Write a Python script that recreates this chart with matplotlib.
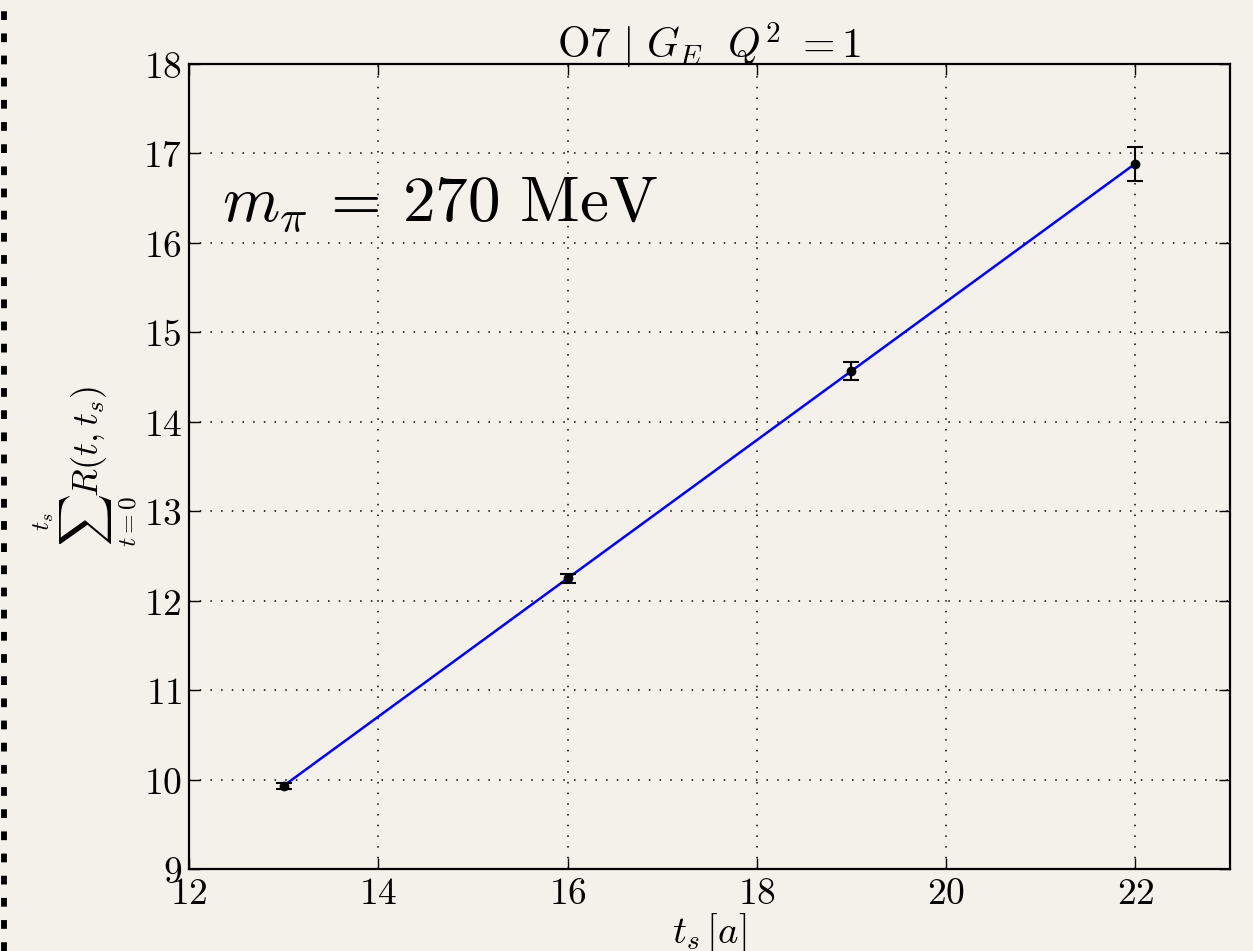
import numpy as np
import matplotlib
matplotlib.use("Agg")
import matplotlib.pyplot as plt
from matplotlib.lines import Line2D
from matplotlib.ticker import FuncFormatter

# Summed ratio vs source-sink separation
ts = [13, 16, 19, 22]
summed_R = [9.93, 12.25, 14.57, 16.88]
summed_R_err = [0.03, 0.05, 0.10, 0.19]

x_ticks = [12, 14, 16, 18, 20, 22]
y_ticks = [9, 10, 11, 12, 13, 14, 15, 16, 17, 18]

plt.rcParams["mathtext.fontset"] = "cm"
plt.rcParams["font.family"] = "serif"
plt.rcParams["font.serif"] = ["DejaVu Serif"]

bg = "#f4f1eb"
fig = plt.figure(figsize=(12.53, 9.51), dpi=100, facecolor=bg)
ax = fig.add_axes([0.1508, 0.0862, 0.8309, 0.8465], facecolor=bg)

# Linear fit through the points
slope, intercept = np.polyfit(ts, summed_R, 1, w=1.0 / np.array(summed_R_err))
xf = np.array([ts[0], ts[-1]])
ax.plot(xf, slope * xf + intercept, color="blue", lw=1.8, zorder=2)

ax.errorbar(ts, summed_R, yerr=summed_R_err, fmt="o", color="black",
            ms=6, capsize=6, elinewidth=1.5, capthick=1.5, zorder=3)

ax.set_xlim(12, 23)
ax.set_ylim(9, 18)
ax.set_xticks(x_ticks)
ax.set_yticks(y_ticks)
fmt = FuncFormatter(lambda v, p: r"$%d$" % v)
ax.xaxis.set_major_formatter(fmt)
ax.yaxis.set_major_formatter(fmt)
ax.tick_params(direction="in", length=8, width=1, top=True, right=True,
               labelsize=27, pad=5)
ax.grid(True, color="black", linestyle=(0, (1, 6)), linewidth=1.1)
for s in ax.spines.values():
    s.set_linewidth(1.6)

ax.set_title(r"$\mathrm{O7}\ \mathbf{|}\ G_E\ \ Q^2\ =1$", fontsize=30, pad=4)
ax.set_xlabel(r"$t_s\,[a]$", fontsize=28, labelpad=0)
ax.set_ylabel(r"$\sum_{t=0}^{t_s} R(t,t_s)$", fontsize=26, labelpad=2)

ax.text(12.35, 16.45, r"$m_\pi\, =\, 270\ \mathrm{MeV}$", fontsize=47,
        va="center", ha="left")

# dashed strip along the left edge
fig.add_artist(Line2D([0.0028, 0.0028], [0, 1], transform=fig.transFigure,
                      color="black", lw=4.2, linestyle=(0, (1.5, 2.3))))

fig.savefig("out.png", dpi=100, facecolor=bg)
